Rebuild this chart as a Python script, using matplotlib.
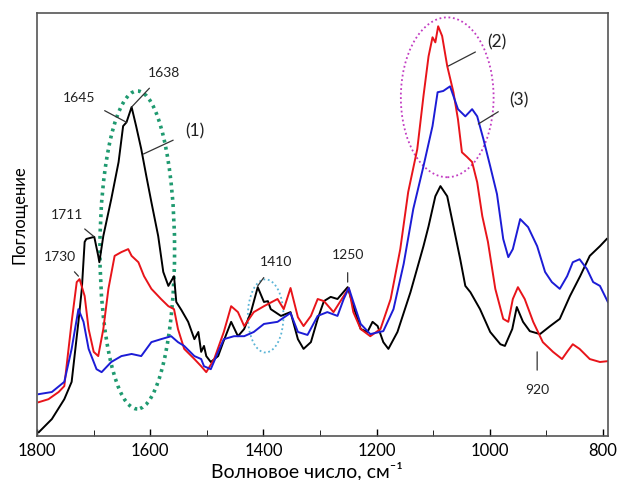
import matplotlib
matplotlib.use("Agg")
import matplotlib.pyplot as plt
from matplotlib.patches import Ellipse

plt.rcParams['font.family'] = ['Lato', 'DejaVu Sans']

# wavenumber (cm-1) and absorbance (arb. units)
wn_1 = [1797, 1774, 1752, 1739, 1727, 1721, 1716, 1713, 1699, 1692, 1690, 1683, 1669, 1656,
        1648, 1642, 1633, 1625, 1616, 1607, 1598, 1586, 1577, 1568, 1558, 1554, 1545, 1533,
        1522, 1515, 1510, 1505, 1501, 1493, 1480, 1471, 1457, 1445, 1434, 1422, 1410, 1399,
        1392, 1387, 1369, 1352, 1339, 1329, 1316, 1304, 1293, 1281, 1269, 1251, 1241, 1228,
        1216, 1207, 1198, 1188, 1179, 1163, 1140, 1117, 1108, 1096, 1087, 1075, 1064, 1052,
        1043, 1034, 1017, 999, 981, 973, 960, 952, 941, 929, 911, 893, 876, 858, 840, 823,
        805, 793]
abs_1 = [0.009, 0.040, 0.087, 0.128, 0.270, 0.348, 0.459, 0.466, 0.471, 0.426, 0.411, 0.473,
         0.560, 0.648, 0.733, 0.742, 0.778, 0.733, 0.679, 0.615, 0.553, 0.473, 0.388, 0.355,
         0.378, 0.317, 0.298, 0.270, 0.229, 0.246, 0.199, 0.213, 0.189, 0.175, 0.189, 0.222,
         0.270, 0.236, 0.253, 0.293, 0.352, 0.317, 0.319, 0.300, 0.284, 0.293, 0.229, 0.206,
         0.222, 0.277, 0.319, 0.329, 0.324, 0.352, 0.307, 0.253, 0.246, 0.270, 0.260, 0.222,
         0.206, 0.246, 0.340, 0.449, 0.496, 0.567, 0.591, 0.567, 0.496, 0.418, 0.355, 0.340,
         0.300, 0.246, 0.217, 0.213, 0.253, 0.305, 0.270, 0.248, 0.241, 0.260, 0.277, 0.331,
         0.378, 0.426, 0.449, 0.466]

wn_2 = [1797, 1780, 1762, 1752, 1739, 1730, 1725, 1716, 1709, 1700, 1692, 1683, 1674, 1663,
        1651, 1639, 1633, 1621, 1611, 1598, 1581, 1568, 1558, 1551, 1540, 1522, 1510, 1501,
        1487, 1470, 1457, 1445, 1434, 1417, 1399, 1375, 1364, 1352, 1339, 1329, 1316, 1304,
        1293, 1276, 1258, 1249, 1241, 1228, 1211, 1193, 1175, 1158, 1144, 1128, 1117, 1108,
        1101, 1096, 1091, 1084, 1075, 1064, 1056, 1049, 1040, 1031, 1022, 1013, 1003, 990,
        976, 967, 959, 950, 938, 923, 906, 888, 872, 862, 853, 841, 823, 805, 791]
abs_2 = [0.080, 0.087, 0.104, 0.118, 0.270, 0.364, 0.371, 0.331, 0.253, 0.199, 0.189, 0.253,
         0.348, 0.426, 0.435, 0.442, 0.426, 0.411, 0.378, 0.348, 0.324, 0.307, 0.300, 0.253,
         0.206, 0.182, 0.165, 0.151, 0.182, 0.246, 0.307, 0.293, 0.260, 0.293, 0.307, 0.324,
         0.300, 0.350, 0.281, 0.260, 0.284, 0.324, 0.319, 0.293, 0.331, 0.350, 0.293, 0.253,
         0.236, 0.253, 0.324, 0.442, 0.577, 0.678, 0.804, 0.898, 0.943, 0.931, 0.969, 0.946,
         0.875, 0.813, 0.749, 0.671, 0.660, 0.648, 0.600, 0.520, 0.459, 0.348, 0.277, 0.270,
         0.324, 0.352, 0.324, 0.270, 0.222, 0.199, 0.182, 0.201, 0.217, 0.206, 0.182, 0.175,
         0.177]

wn_3 = [1797, 1774, 1752, 1739, 1727, 1718, 1709, 1695, 1686, 1669, 1651, 1633, 1616, 1598,
        1581, 1563, 1551, 1540, 1522, 1510, 1505, 1493, 1480, 1470, 1452, 1434, 1417, 1399,
        1375, 1352, 1339, 1322, 1304, 1287, 1269, 1258, 1249, 1241, 1228, 1211, 1188, 1170,
        1152, 1135, 1117, 1101, 1092, 1082, 1070, 1064, 1056, 1043, 1031, 1022, 1011, 999,
        987, 976, 967, 959, 946, 932, 916, 902, 890, 876, 863, 853, 841, 828, 817, 805, 791]
abs_3 = [0.099, 0.104, 0.128, 0.206, 0.300, 0.270, 0.206, 0.158, 0.151, 0.175, 0.189, 0.194,
         0.189, 0.222, 0.229, 0.236, 0.222, 0.213, 0.189, 0.182, 0.165, 0.158, 0.199, 0.229,
         0.236, 0.236, 0.246, 0.265, 0.270, 0.291, 0.246, 0.239, 0.284, 0.293, 0.284, 0.324,
         0.350, 0.317, 0.265, 0.241, 0.248, 0.300, 0.407, 0.537, 0.638, 0.733, 0.813, 0.816,
         0.827, 0.804, 0.773, 0.756, 0.773, 0.756, 0.702, 0.638, 0.572, 0.466, 0.423, 0.442,
         0.513, 0.494, 0.449, 0.388, 0.364, 0.348, 0.378, 0.411, 0.418, 0.395, 0.364, 0.355,
         0.317]

fig = plt.figure(figsize=(6.19, 4.81), dpi=100)
ax = fig.add_axes([0.060, 0.0915, 0.922, 0.879])

ax.plot(wn_1, abs_1, color='black', lw=1.4)
ax.plot(wn_2, abs_2, color='#e8141a', lw=1.4)
ax.plot(wn_3, abs_3, color='#1c1cd6', lw=1.4)

# dotted ellipses around regions of interest
ax.add_patch(Ellipse((1623, 0.440), 132, 0.752, fill=False, ec='#1f9a70',
                     lw=2.6, ls=(0, (0.8, 1.2))))
ax.add_patch(Ellipse((1396, 0.284), 63, 0.173, fill=False, ec='#5ab4d6',
                     lw=1.3, ls=(0, (1, 1.5))))
ax.add_patch(Ellipse((1075, 0.801), 164, 0.378, fill=False, ec='#c23cc2',
                     lw=1.3, ls=(0, (1, 1.5))))

# peak labels
notes = [("1645", (1642, 0.742), (1725, 0.801)),
         ("1638", (1633, 0.778), (1575, 0.860)),
         ("(1)", (1612, 0.667), (1522, 0.723)),
         ("1711", (1699, 0.471), (1748, 0.525)),
         ("1730", (1727, 0.378), (1760, 0.426)),
         ("1410", (1410, 0.355), (1378, 0.414)),
         ("1250", (1251, 0.364), (1251, 0.430)),
         ("920", (916, 0.199), (916, 0.112)),
         ("(2)", (1073, 0.875), (988, 0.934)),
         ("(3)", (1020, 0.738), (948, 0.797))]
for txt, xy, xyt in notes:
    fs = 12.5 if txt.startswith("(") else 10
    ax.annotate(txt, xy=xy, xytext=xyt, ha='center', va='center', fontsize=fs,
                color='#222222',
                arrowprops=dict(arrowstyle='-', color='#333333', lw=0.9,
                                shrinkA=7, shrinkB=0))

ax.set_xlim(1798, 791)
ax.set_ylim(0, 1)
ax.set_xticks([1800, 1600, 1400, 1200, 1000, 800])
ax.set_xticks(range(800, 1800, 100), minor=True)
ax.set_yticks([])
ax.tick_params(axis='x', direction='in', labelsize=12, length=5, width=1, pad=4)
ax.tick_params(axis='x', which='minor', direction='in', length=4)
for s in ax.spines.values():
    s.set_color('#555555')
    s.set_linewidth(1.2)

ax.set_xlabel("Волновое число, см⁻¹", fontsize=14)
ax.xaxis.set_label_coords(0.473, -0.081)
ax.xaxis.label.set_va('center')
ax.set_ylabel("Поглощение", fontsize=12)
ax.yaxis.set_label_coords(-0.0175, 0.527)

fig.savefig("out.png", dpi=100)
